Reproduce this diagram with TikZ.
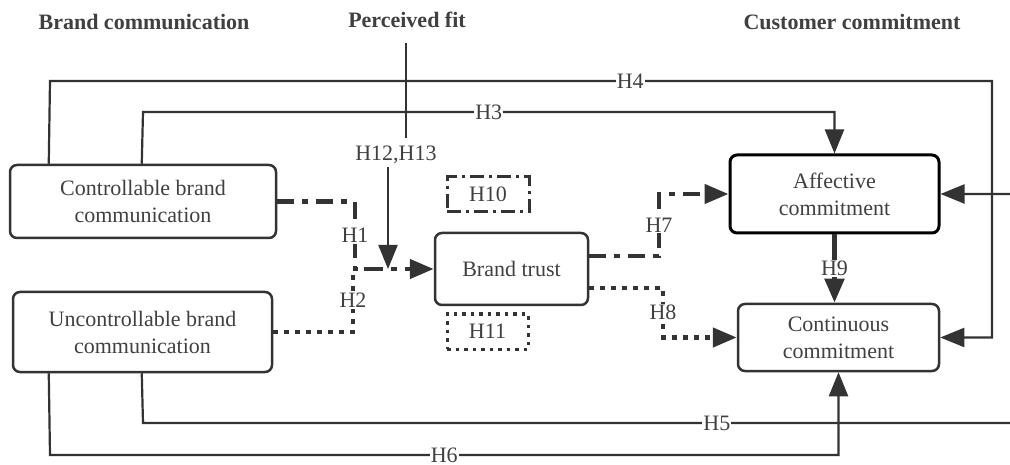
\documentclass[tikz,border=0pt]{standalone}
\usepackage{fontspec}
\setmainfont{Liberation Serif}
\newfontfamily\tnr{Liberation Serif}
\usetikzlibrary{arrows.meta}
\definecolor{ln}{HTML}{333333}
\definecolor{tx}{HTML}{404040}
\begin{document}
\begin{tikzpicture}[x=1pt,y=-1pt,
 every node/.style={font=\tnr\fontsize{22}{27}\selectfont, text=tx},
 box/.style={draw=ln, line width=2.5pt, rounded corners=7pt, align=center, inner sep=0pt},
 conn/.style={draw=ln, line width=2.2pt},
 tip/.style={-{Triangle[length=24pt,width=19pt]}},
 dashdot/.style={draw=ln, line width=4.5pt, dash pattern=on 17pt off 8pt on 6pt off 8pt},
 dotline/.style={draw=ln, line width=4.5pt, dash pattern=on 5pt off 6pt},
 lbl/.style={fill=white, inner sep=1pt},
 ttl/.style={font=\tnr\bfseries\fontsize{22}{27}\selectfont}]
\useasboundingbox (0,0) rectangle (1010,465);
\clip (0,0) rectangle (1010,465);
\fill[white] (0,0) rectangle (1010,465);

% titles
\node[ttl] (bc) at (144,22) {Brand communication};
\node[ttl] (pf) at (407,20) {Perceived fit};
\node[ttl] (cc) at (852,22) {Customer commitment};

% boxes
\node[box, minimum width=266pt, minimum height=73pt] (ctrl) at (143,201.5) {Controllable brand\\communication};
\node[box, minimum width=259pt, minimum height=80pt] (unctrl) at (142.5,332) {Uncontrollable brand\\communication};
\node[box, minimum width=153pt, minimum height=72pt] (trust) at (511.5,269) {Brand trust};
\node[box, draw=black, line width=3pt, minimum width=209pt, minimum height=78pt] (aff) at (834.5,194) {Affective\\commitment};
\node[box, minimum width=201pt, minimum height=67pt] (cont) at (838.5,337.5) {Continuous\\commitment};
\node[draw=ln, line width=3pt, dash pattern=on 14pt off 5pt on 3pt off 5pt, minimum width=82pt, minimum height=35pt, inner sep=0pt] (h10) at (488,194.5) {H10};
\node[draw=ln, line width=3pt, dash pattern=on 3.5pt off 5pt, minimum width=81pt, minimum height=35pt, inner sep=0pt] (h11) at (487.5,331.5) {H11};

% H4
\draw[conn, tip] ([xshift=40pt]ctrl.north west) -- (50,81) -- node[lbl, pos=0.616]{H4} (992,81) -- (992,337.5) -- (cont.east);
% H3
\draw[conn, tip] ([xshift=133pt]ctrl.north west) -- (143,112) -- node[lbl, pos=0.5]{H3} (834.5,112) -- (aff.north);
% H5
\draw[conn, tip] ([xshift=130pt]unctrl.south west) -- (143,423) -- node[lbl, pos=0.647]{H5} (1030,423) -- (1030,194) -- (aff.east);
% H6
\draw[conn, tip] ([xshift=37pt]unctrl.south west) -- (50,455) -- node[lbl, pos=0.5]{H6} (838.5,455) -- (cont.south);

% perceived fit moderation
\coordinate (pftop) at (406,43);
\coordinate (pfbot) at (406,138);
\draw[conn] (pftop) -- (pfbot);
\node[lbl] (h1213) at (396,155) {H12,H13};
\coordinate (a12) at (388,167);
\coordinate (m) at (388,269);

% H2
\draw[dotline] (unctrl.east) -| node[lbl, pos=0.75]{H2} (353,269) -- (372,269);
% H1
\draw[dashdot, tip] (ctrl.east) -| node[lbl, pos=0.75]{H1} (355,269) -- (trust.west);
\draw[conn, tip] (a12) -- (m);

% H7, H8
\draw[dashdot, tip] ([yshift=13pt]trust.east) -| node[lbl, pos=0.75]{H7} (659,194) -- (aff.west);
\draw[dotline, tip] ([yshift=-19pt]trust.east) -| node[lbl, pos=0.75]{H8} (663,337.5) -- (cont.west);

% H9
\draw[draw=ln, line width=5pt, tip] (aff.south) -- node[lbl]{H9} (aff.south |- cont.north);
\end{tikzpicture}
\end{document}
